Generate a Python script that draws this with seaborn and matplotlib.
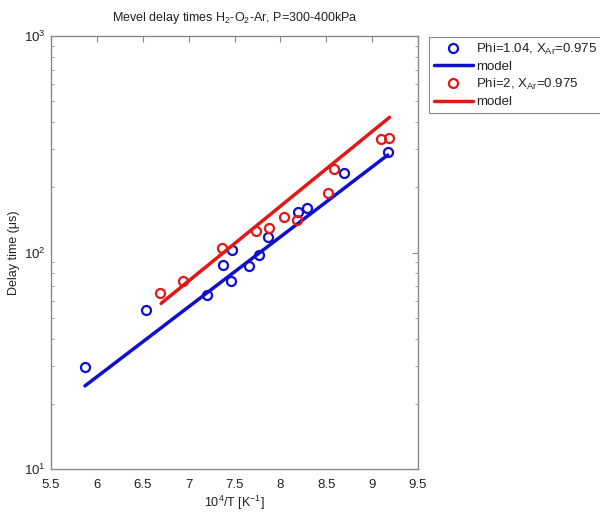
import numpy as np
import pandas as pd
import matplotlib
matplotlib.use("Agg")
import matplotlib.pyplot as plt
import seaborn as sns

# ---- data ----
blue_x = [5.87, 6.54, 7.20, 7.37, 7.46, 7.47, 7.66, 7.77, 7.86, 8.19, 8.29, 8.69, 9.17]
blue_y = [29.6, 54.2, 63.7, 87.5, 73.8, 103, 86.9, 97, 118, 154, 161, 234, 292]
red_x = [6.69, 6.94, 7.36, 7.73, 7.88, 8.04, 8.18, 8.52, 8.58, 9.10, 9.18]
red_y = [65.2, 73.8, 104.5, 125.6, 130, 146, 142, 188, 243, 333, 339]
blue_model_x = [5.87, 9.17]
blue_model_y = [24.2, 282]
red_model_x = [6.70, 9.19]
red_model_y = [58.2, 421]

x_ticks = [5.5, 6, 6.5, 7, 7.5, 8, 8.5, 9, 9.5]
x_ticklabels = ["5.5", "6", "6.5", "7", "7.5", "8", "8.5", "9", "9.5"]

labels = ["Phi=1.04, X$_{Ar}$=0.975", "model", "Phi=2, X$_{Ar}$=0.975", "model"]
title = "Mevel delay times H$_2$-O$_2$-Ar, P=300-400kPa"
xlabel = "10$^4$/T [K$^{-1}$]"
ylabel = "Delay time (\u03bcs)"

BLUE = "#1010cc"
RED = "#e01818"

sns.set_theme(style="white")
plt.rcParams["font.family"] = ["Liberation Sans", "DejaVu Sans"]
plt.rcParams["mathtext.fontset"] = "custom"
plt.rcParams["mathtext.rm"] = "Liberation Sans"
plt.rcParams["mathtext.it"] = "Liberation Sans"
plt.rcParams["mathtext.default"] = "regular"

fig = plt.figure(figsize=(6.0, 5.12), dpi=100)
ax = fig.add_axes([51 / 600, 1 - 469 / 512, (418 - 51) / 600, (469 - 36) / 512])

df_b = pd.DataFrame({"x": blue_x, "y": blue_y})
df_r = pd.DataFrame({"x": red_x, "y": red_y})
df_bm = pd.DataFrame({"x": blue_model_x, "y": blue_model_y})
df_rm = pd.DataFrame({"x": red_model_x, "y": red_model_y})

pk = dict(marker="o", linestyle="", markersize=6.5, markerfacecolor="none",
          markeredgewidth=1.6, sort=False, estimator=None)
sns.lineplot(data=df_b, x="x", y="y", ax=ax, color=BLUE, markeredgecolor=BLUE,
             label=labels[0], **pk)
sns.lineplot(data=df_bm, x="x", y="y", ax=ax, color=BLUE, linewidth=2.5,
             sort=False, estimator=None, label=labels[1])
sns.lineplot(data=df_r, x="x", y="y", ax=ax, color=RED, markeredgecolor=RED,
             label=labels[2], **pk)
sns.lineplot(data=df_rm, x="x", y="y", ax=ax, color=RED, linewidth=2.5,
             sort=False, estimator=None, label=labels[3])

ax.set_yscale("log")
ax.set_xlim(5.5, 9.5)
ax.set_ylim(10, 1000)
ax.set_xticks(x_ticks)
ax.set_xticklabels(x_ticklabels)

spine_col = "#8a8a8a"
for s in ax.spines.values():
    s.set_color(spine_col)
    s.set_linewidth(1.0)
ax.tick_params(which="both", direction="in", top=True, right=True,
               color=spine_col, labelcolor="#222222", labelsize=9.5)
ax.tick_params(which="major", length=4, width=0.8)
ax.tick_params(axis="x", which="major", pad=7)
ax.tick_params(axis="y", which="major", pad=4)
ax.tick_params(which="minor", length=2.5, width=0.6, left=True, right=True)

ax.set_title(title, fontsize=9, pad=11, color="#222222")
ax.set_xlabel(xlabel, fontsize=9, labelpad=2, color="#222222")
ax.set_ylabel(ylabel, fontsize=9, labelpad=3, color="#222222")

leg = ax.legend(loc="upper left", bbox_to_anchor=(429 / 600, 1 - 37 / 512),
                bbox_transform=fig.transFigure, fontsize=9.5, frameon=True,
                fancybox=False, framealpha=1, edgecolor="#8a8a8a",
                handlelength=3.0, handletextpad=0.25, labelspacing=0.3,
                borderpad=0.35, numpoints=1, borderaxespad=0)
leg.get_frame().set_linewidth(0.8)
for t in leg.get_texts():
    t.set_color("#222222")

fig.savefig("out.png", dpi=100)
